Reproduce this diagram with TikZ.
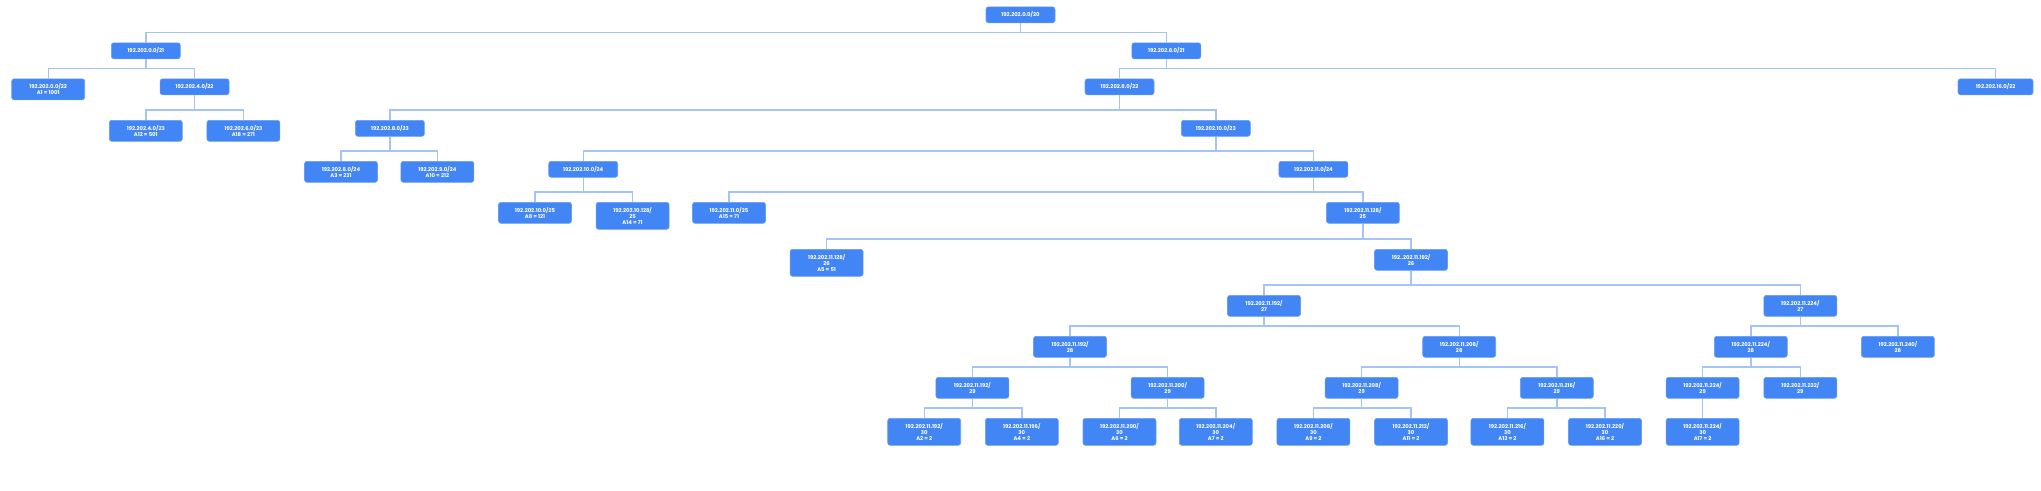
\documentclass[tikz,border=0pt]{standalone}
\usepackage{fontspec}
\setmainfont{Poppins}
\usetikzlibrary{calc}
\definecolor{boxblue}{RGB}{66,133,244}
\definecolor{lineblue}{RGB}{164,196,248}
\begin{document}
\begin{tikzpicture}[x=1pt,y=-1pt,
  bx/.style={anchor=north,fill=boxblue,draw=boxblue!80!white,line width=0.6pt,rounded corners=2.5pt,
    text=white,font=\fontsize{5.3}{5.9}\selectfont\bfseries,align=center,inner sep=0pt,minimum width=73},
  bxa/.style={bx,minimum height=16,minimum width=69},
  bxb/.style={bx,minimum height=21},
  bxc/.style={bx,minimum height=27},
  conn/.style={draw=lineblue,line width=1.4pt}]
\useasboundingbox (0,0) rectangle (2041,490);
\def\ra{6.5}\def\rb{42.5}\def\rc{78.5}\def\rd{120}\def\re{161}\def\rf{202}
\def\rg{249}\def\rh{295}\def\ri{336}\def\rj{377}\def\rk{418}
\newcommand\conn[2]{\draw[conn] (#1.south) |- ($(#2.north)+(0,-10)$) -- (#2.north);}
% rows
\node[bxa] (r) at (1020.5,\ra) {192.202.0.0/20};
\node[bxa] (a) at (145.8,\rb) {192.202.0.0/21};
\node[bxa] (b) at (1166.3,\rb) {192.202.8.0/21};
\node[bxb] (a1) at (48.2,\rc) {192.202.0.0/22\\A1 = 1001};
\node[bxa] (a2) at (194.6,\rc) {192.202.4.0/22};
\node[bxa] (b1) at (1119.5,\rc) {192.202.8.0/22};
\node[bxa,minimum width=75] (b2) at (1995.5,\rc) {192.202.16.0/22};
\node[bxb] (a21) at (145.8,\rd) {192.202.4.0/23\\A12 = 501};
\node[bxb] (a22) at (243.4,\rd) {192.202.6.0/23\\A18 = 271};
\node[bxa] (b11) at (389.9,\rd) {192.202.8.0/23};
\node[bxa] (b12) at (1215.8,\rd) {192.202.10.0/23};
\node[bxb] (b111) at (341,\re) {192.202.8.0/24\\A3 = 231};
\node[bxb] (b112) at (437.4,\re) {192.202.9.0/24\\A10 = 212};
\node[bxa] (b121) at (583.2,\re) {192.202.10.0/24};
\node[bxa] (b122) at (1313.4,\re) {192.202.11.0/24};
\node[bxb] (c1) at (535,\rf) {192.202.10.0/25\\A8 = 121};
\node[bxc] (c2) at (632.6,\rf) {192.202.10.128/\\25\\A14 = 71};
\node[bxb] (c3) at (729,\rf) {192.202.11.0/25\\A15 = 71};
\node[bxb] (c4) at (1362.9,\rf) {192.202.11.128/\\25};
\node[bxc] (d1) at (826.6,\rg) {192.202.11.128/\\26\\A5 = 51};
\node[bxb] (d2) at (1411,\rg) {192..202.11.192/\\26};
\node[bxb] (e1) at (1264,\rh) {192.202.11.192/\\27};
\node[bxb] (e2) at (1800.3,\rh) {192.202.11.224/\\27};
\node[bxb] (f1) at (1070,\ri) {192.202.11.192/\\28};
\node[bxb] (f2) at (1459.2,\ri) {192.202.11.208/\\28};
\node[bxb] (f3) at (1750.8,\ri) {192.202.11.224/\\28};
\node[bxb] (f4) at (1897.9,\ri) {192.202.11.240/\\28};
\node[bxb] (g1) at (972.4,\rj) {192.202.11.192/\\29};
\node[bxb] (g2) at (1167.6,\rj) {192.202.11.200/\\29};
\node[bxb] (g3) at (1361.6,\rj) {192.202.11.208/\\29};
\node[bxb] (g4) at (1556.8,\rj) {192.202.11.216/\\29};
\node[bxb] (g5) at (1702.6,\rj) {192.202.11.224/\\29};
\node[bxb] (g6) at (1800.3,\rj) {192.202.11.232/\\29};
\node[bxc] (h1) at (924.2,\rk) {192.202.11.192/\\30\\A2 = 2};
\node[bxc] (h2) at (1021.8,\rk) {192.202.11.196/\\30\\A4 = 2};
\node[bxc] (h3) at (1119.5,\rk) {192.202.11.200/\\30\\A6 = 2};
\node[bxc] (h4) at (1215.8,\rk) {192.202.11.204/\\30\\A7 = 2};
\node[bxc] (h5) at (1313.4,\rk) {192.202.11.208/\\30\\A9 = 2};
\node[bxc] (h6) at (1411,\rk) {192.202.11.212/\\30\\A11 = 2};
\node[bxc] (h7) at (1507.4,\rk) {192.202.11.216/\\30\\A13 = 2};
\node[bxc] (h8) at (1605,\rk) {192.202.11.220/\\30\\A16 = 2};
\node[bxc] (h9) at (1702.6,\rk) {192.202.11.224/\\30\\A17 = 2};
% connectors
\conn{r}{a}\conn{r}{b}
\conn{a}{a1}\conn{a}{a2}
\conn{b}{b1}\conn{b}{b2}
\conn{a2}{a21}\conn{a2}{a22}
\conn{b1}{b11}\conn{b1}{b12}
\conn{b11}{b111}\conn{b11}{b112}
\conn{b12}{b121}\conn{b12}{b122}
\conn{b121}{c1}\conn{b121}{c2}
\conn{b122}{c3}\conn{b122}{c4}
\conn{c4}{d1}\conn{c4}{d2}
\conn{d2}{e1}\conn{d2}{e2}
\conn{e1}{f1}\conn{e1}{f2}
\conn{e2}{f3}\conn{e2}{f4}
\conn{f1}{g1}\conn{f1}{g2}
\conn{f2}{g3}\conn{f2}{g4}
\conn{f3}{g5}\conn{f3}{g6}
\conn{g1}{h1}\conn{g1}{h2}
\conn{g2}{h3}\conn{g2}{h4}
\conn{g3}{h5}\conn{g3}{h6}
\conn{g4}{h7}\conn{g4}{h8}
\conn{g5}{h9}
\end{tikzpicture}
\end{document}
